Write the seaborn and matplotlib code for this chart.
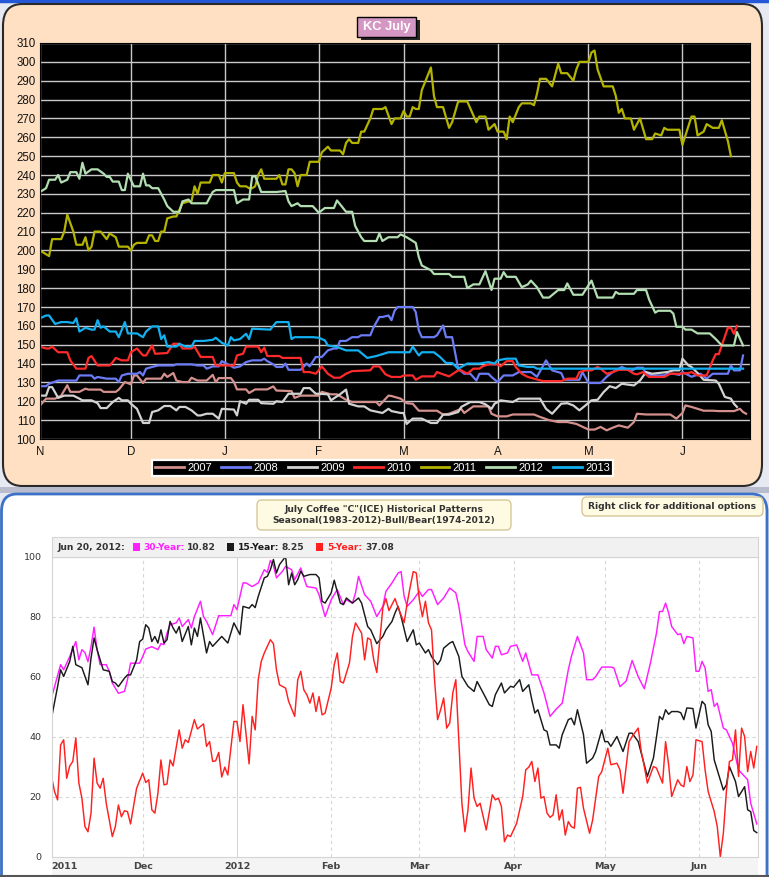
import numpy as np
import pandas as pd
import matplotlib
matplotlib.use("Agg")
import matplotlib.pyplot as plt
from matplotlib.patches import FancyBboxPatch, Rectangle
from matplotlib.lines import Line2D
import seaborn as sns

plt.rcParams['font.family'] = ['DejaVu Sans']

# ---------------- top chart: KC July, price by season day (0 = Nov 1) ----------------
years = ['2007', '2008', '2009', '2010', '2011', '2012', '2013']
year_colors = ['#D4908C', '#6A7BF5', '#D2D2D2', '#FF2A2A', '#B4B400', '#B2DEB2', '#12B0F0']

kc_2007 = [(0, 117.8), (2, 121.4), (5, 121.4), (7, 123), (9, 128.5), (10, 125), (13, 125), (15, 126.7), (16, 126.2),
           (20, 126.2), (21, 125), (25, 125), (26, 126.2), (28, 130.2), (30, 129), (31, 133.7), (32, 133.7), (34, 129.7),
           (35, 132), (40, 132), (41, 134.6), (42, 132.9), (44, 135), (45, 131), (47, 130.2), (49, 130.2), (50, 132.5),
           (52, 131), (55, 131), (57, 134), (58, 130.2), (59, 132.3), (63, 132.3), (64, 130.2), (65, 126.3), (68, 126.3),
           (69, 124.4), (71, 126.3), (75, 126.3), (77, 127.9), (78, 125.7), (83, 125.4), (84, 121.8), (86, 123), (92, 123),
           (93, 125), (96, 123.7), (98, 123.7), (101, 120.8), (103, 119.6), (111, 119.6), (112, 117.8), (115, 123),
           (116, 122.8), (119, 121.4), (121, 119), (123, 118.7), (125, 115), (131, 115), (133, 113), (135, 113.4),
           (139, 116), (140, 113.8), (143, 117.3), (148, 117.3), (149, 113.4), (151, 112), (154, 112), (156, 113),
           (163, 113), (165, 111.7), (168, 110), (171, 109), (174, 109), (177, 108), (181, 105), (183, 105), (185, 106.4),
           (187, 104.6), (189, 106), (191, 107.2), (194, 106), (196, 109), (197, 113.4), (200, 113), (208, 113),
           (210, 110.8), (212, 113.8), (213, 117.8), (215, 117), (217, 116), (219, 115), (222, 115), (224, 114.8),
           (229, 114.8), (231, 116), (232, 114.3), (233, 113.4)]

kc_2008 = [(0, 128), (2, 128), (3, 129.3), (6, 131), (12, 131), (13, 133.7), (17, 133.7), (18, 132), (19, 132.9),
           (22, 132), (25, 132), (26, 130.2), (27, 133.7), (29, 134.6), (32, 134.6), (33, 135.5), (34, 133.7), (35, 137.3),
           (37, 138.2), (39, 139), (44, 139), (45, 139.6), (50, 139.6), (52, 139), (54, 139), (55, 137.3), (57, 138.5),
           (59, 138.5), (60, 141.3), (62, 139.6), (64, 137.8), (66, 138.5), (68, 140.8), (70, 141.7), (73, 141.7),
           (74, 142.6), (75, 141.3), (77, 139.6), (78, 138.2), (80, 138.2), (81, 140), (82, 136.7), (86, 136.7), (88, 140),
           (89, 138.5), (91, 143.5), (93, 143.5), (95, 147), (97, 148), (98, 148), (99, 152), (101, 152), (103, 154),
           (105, 154), (106, 155), (109, 155), (110, 159), (112, 164.7), (113, 164.7), (115, 165.5), (116, 163),
           (117, 168), (118, 170), (123, 170), (124, 167.3), (125, 157.6), (126, 154), (130, 154), (131, 155),
           (133, 160.2), (134, 154), (136, 154), (138, 137.3), (140, 134.6), (142, 134.6), (144, 131), (145, 134.6),
           (148, 134.6), (149, 132.9), (151, 130.2), (153, 133.7), (156, 133.7), (158, 135.5), (162, 135.5), (164, 133),
           (167, 141.7), (169, 136.4), (172, 135), (173, 131.4), (178, 131.4), (179, 135.5), (181, 129.7), (185, 129.7),
           (187, 133), (189, 135.5), (192, 138.2), (195, 136), (197, 137.8), (199, 137.8), (200, 134.6), (202, 133.7),
           (206, 133.7), (207, 134.6), (209, 134.6), (211, 134), (212, 135.5), (215, 133), (218, 134.6), (220, 132),
           (222, 134.6), (227, 134.6), (228, 139), (229, 136.4), (231, 136.4), (232, 144.3)]

kc_2009 = [(0, 123), (2, 123), (3, 127.5), (4, 127.5), (6, 121.8), (8, 123), (11, 123), (13, 121.4), (14, 120.5),
           (17, 120.5), (19, 119), (20, 116.4), (22, 116.4), (24, 119.6), (26, 121.8), (27, 120.5), (29, 120.5),
           (30, 118.7), (32, 116), (34, 108.5), (36, 108.5), (37, 114.3), (39, 115.2), (41, 117.5), (43, 117.5),
           (45, 115.2), (46, 117), (48, 117), (50, 115.2), (52, 112.5), (53, 112.5), (55, 113.4), (57, 113.4), (59, 110.8),
           (60, 116), (64, 115.6), (65, 112.5), (66, 120), (68, 118.7), (69, 120.8), (72, 120.8), (73, 119), (77, 118.7),
           (78, 120), (80, 119.6), (82, 124), (86, 124), (87, 127), (89, 127), (91, 124), (92, 124), (95, 123.7),
           (96, 120.5), (99, 123.7), (101, 126.2), (102, 118.7), (105, 117.3), (107, 117.3), (109, 115.2), (113, 113.8),
           (115, 116), (116, 114.8), (119, 113.8), (120, 113.8), (121, 108), (123, 110.8), (126, 110.8), (129, 108.5),
           (131, 108.5), (133, 112.9), (135, 112.9), (138, 114.3), (139, 117), (142, 119.6), (145, 119.6), (147, 118.4),
           (149, 116), (150, 118.7), (152, 120.5), (156, 119.6), (158, 121.4), (165, 121.4), (167, 116), (169, 113.4),
           (172, 118.7), (174, 119), (176, 117.8), (178, 115.2), (180, 117.8), (182, 120.5), (184, 120.8), (186, 124.9),
           (188, 128), (190, 127), (192, 129.3), (196, 128.4), (198, 131), (200, 135.5), (202, 134.6), (207, 135.5),
           (209, 136.4), (211, 136.4), (212, 142.6), (214, 139), (215, 138.2), (217, 135), (219, 131.4), (223, 131),
           (224, 129.3), (226, 122.3), (228, 121.4), (229, 118.7), (230, 117)]

kc_2010 = [(0, 149), (2, 148), (3, 148), (4, 149), (6, 146), (9, 146), (10, 141.7), (12, 137.3), (15, 137.3), (16, 143),
           (17, 144), (19, 139), (23, 139), (24, 140.8), (25, 143), (27, 141.7), (29, 141.7), (30, 146), (32, 148),
           (34, 144.3), (35, 144.3), (37, 149.6), (38, 145.2), (42, 145.6), (44, 150.5), (46, 150.5), (47, 148), (50, 148),
           (51, 149), (53, 143.5), (57, 143.5), (58, 139), (64, 139), (65, 144.3), (67, 145.2), (68, 149), (72, 149),
           (73, 146), (74, 148.4), (75, 144), (79, 144), (80, 143), (86, 143), (87, 135.5), (89, 135.5), (91, 134.6),
           (93, 138.5), (95, 134.6), (97, 132.5), (99, 132.5), (101, 134.6), (103, 136), (109, 136.4), (110, 138.5),
           (112, 138.5), (114, 134.3), (116, 132.9), (119, 132.9), (120, 133.7), (123, 133.7), (124, 131.4), (126, 133.2),
           (130, 133.2), (131, 135.5), (133, 134.3), (135, 133.2), (138, 136.4), (139, 136.4), (141, 134.6), (143, 137.3),
           (145, 137.3), (146, 138.5), (148, 139.6), (151, 139.6), (152, 138.5), (154, 141.3), (156, 141.3), (157, 138.2),
           (159, 134.6), (161, 132.9), (166, 130.7), (172, 130.7), (174, 132), (177, 132), (178, 135.5), (180, 136.4),
           (182, 136.4), (184, 138.2), (185, 137.3), (187, 134.6), (189, 135.5), (191, 136.7), (194, 136.7), (196, 134.6),
           (197, 134.3), (199, 135.5), (201, 132.9), (206, 132.9), (208, 134.6), (211, 134.6), (214, 135), (215, 135.5),
           (217, 133.7), (220, 133.7), (222, 141.7), (223, 145), (224, 145), (227, 159), (228, 159), (229, 155.8),
           (230, 160)]

kc_2011 = [(0, 200), (3, 197), (4, 206), (7, 206), (8, 210), (9, 219), (11, 210), (12, 203), (14, 203), (15, 207),
           (16, 200), (17, 202), (18, 210), (20, 210), (22, 206), (23, 209), (25, 207), (26, 202), (29, 202), (30, 200),
           (31, 203), (32, 204), (35, 204), (36, 208), (37, 208), (38, 205), (39, 205), (40, 210), (41, 210), (42, 217),
           (44, 218), (45, 218), (47, 225), (49, 226), (50, 226), (51, 234), (52, 230), (53, 236), (56, 236), (57, 240),
           (59, 240), (60, 236), (61, 241), (64, 241), (65, 236), (66, 234), (68, 234), (69, 233), (70, 233), (71, 234),
           (72, 240), (73, 243), (74, 238), (78, 238), (79, 240), (80, 235), (81, 235), (82, 243), (83, 243), (84, 241),
           (85, 234), (86, 240), (88, 240), (89, 247), (92, 247), (93, 252), (95, 255), (96, 253), (99, 253), (100, 251),
           (101, 257), (102, 259), (103, 257), (105, 257), (106, 263), (107, 263), (109, 270), (110, 275), (113, 275),
           (114, 276), (116, 267), (117, 270), (119, 270), (120, 274), (121, 271), (122, 271), (123, 276), (124, 275),
           (125, 275), (126, 285), (129, 297), (130, 282), (131, 276), (133, 276), (135, 265), (136, 268), (138, 279),
           (141, 279), (144, 268), (145, 271), (147, 271), (148, 264), (150, 267), (151, 263), (153, 263), (154, 259),
           (155, 271), (156, 268), (158, 276), (159, 278), (162, 278), (163, 277), (164, 283), (165, 291), (167, 291),
           (169, 287), (171, 299), (172, 294), (174, 294), (176, 290), (177, 296), (178, 300), (181, 300), (182, 305),
           (183, 306), (184, 296), (186, 287), (189, 287), (190, 282), (191, 273), (192, 275), (193, 270), (195, 270),
           (196, 264), (198, 270), (200, 259), (202, 259), (203, 262), (205, 261), (206, 265), (207, 264), (211, 264),
           (212, 256), (215, 271), (216, 271), (217, 261), (219, 263), (220, 267), (222, 265), (224, 265), (225, 269),
           (227, 258), (228, 250)]

kc_2012 = [(0, 231), (2, 233), (3, 237.5), (5, 237.5), (6, 240), (7, 236), (9, 237.5), (10, 241.5), (12, 241.5),
           (13, 238), (14, 246.5), (15, 240.7), (17, 243), (19, 243), (21, 240.7), (22, 239), (23, 239), (24, 236.5),
           (26, 236.5), (27, 232), (28, 232), (29, 240.7), (31, 234), (33, 234), (34, 240.7), (35, 234.5), (36, 234.5),
           (37, 233), (39, 233), (41, 227), (42, 223.5), (44, 220.5), (46, 220.5), (47, 226), (49, 227), (50, 225),
           (55, 225), (57, 231), (58, 232), (64, 232), (65, 225), (67, 227), (69, 227), (70, 239), (71, 239.5), (73, 231),
           (78, 231), (81, 231.5), (82, 226), (83, 223.5), (85, 225), (86, 223.5), (90, 223.5), (92, 220), (94, 222.5),
           (97, 222.5), (98, 226.5), (101, 220.5), (103, 220.5), (104, 213), (106, 207), (107, 205), (111, 205),
           (112, 209), (113, 205), (115, 207), (118, 207), (119, 208.5), (121, 207), (123, 205), (124, 204), (125, 196.5),
           (126, 192), (129, 189.5), (130, 187.5), (135, 187.5), (136, 186), (140, 186), (141, 180), (143, 182),
           (145, 182), (147, 189), (149, 179), (150, 185), (152, 185), (153, 188.5), (154, 186), (157, 186), (159, 180.5),
           (161, 182), (162, 184), (164, 180.5), (166, 175), (168, 175), (171, 179), (173, 179), (174, 182.5),
           (176, 176.5), (179, 176.5), (182, 184), (184, 175), (189, 175), (190, 178), (191, 177), (196, 177), (197, 179),
           (200, 179), (201, 174), (203, 167), (204, 168), (208, 168), (209, 166.5), (210, 159.5), (212, 159.5),
           (213, 158), (215, 158), (217, 156), (221, 156), (223, 153), (225, 149.6), (229, 149.6), (230, 156.7),
           (232, 149.6)]

kc_2013 = [(0, 164), (2, 165.5), (3, 165.5), (5, 161), (7, 162), (9, 162), (11, 161.5), (12, 164), (13, 157), (15, 159),
           (17, 158), (18, 158), (19, 163), (20, 159), (21, 159.7), (23, 157), (25, 157), (26, 154), (28, 162), (29, 156),
           (32, 156), (34, 154), (35, 157), (37, 159.7), (39, 159.7), (40, 153), (41, 155), (42, 149), (45, 149),
           (46, 150.5), (48, 149), (50, 149), (51, 152), (54, 152), (57, 152.6), (58, 153.7), (60, 151), (62, 149.6),
           (63, 154), (64, 152.3), (66, 153), (68, 155.8), (69, 153), (70, 158.5), (76, 158), (78, 162), (82, 162),
           (83, 153), (84, 154), (90, 154), (92, 153.7), (94, 152.3), (95, 149.6), (98, 148.8), (101, 147), (105, 147),
           (108, 143), (111, 144), (115, 146), (122, 146), (123, 149), (125, 144.3), (126, 146), (130, 146), (132, 143.5),
           (134, 140.3), (136, 140.3), (138, 137.3), (141, 140), (145, 140), (148, 140.8), (150, 140), (151, 141.7),
           (154, 142.6), (157, 142.6), (158, 139), (161, 138.2), (163, 138.2), (164, 137.3), (232, 137.3)]

kc_series = [kc_2007, kc_2008, kc_2009, kc_2010, kc_2011, kc_2012, kc_2013]
season_ticks = [0, 30, 61, 92, 120, 151, 181, 212]
season_labels = ['N', 'D', 'J', 'F', 'M', 'A', 'M', 'J']
price_ticks = list(range(100, 311, 10))

# ---------------- bottom chart: seasonal patterns (0 = Nov 1, 2011) ----------------
pat_30 = [(0, 53), (3, 64), (4, 62.3), (6, 66.7), (8, 71.7), (9, 65.6), (10, 69), (11, 68), (12, 65), (13, 70), (14, 76.5),
          (15, 69), (16, 64), (18, 64), (19, 61.8), (20, 57.9), (22, 54.5), (24, 55.1), (25, 59), (26, 64.5), (29, 64.5),
          (30, 66.7), (31, 69.2), (33, 70), (35, 69), (36, 71), (37, 70.7), (38, 74.5), (39, 77.3), (41, 77.9),
          (42, 79.5), (43, 76.7), (45, 79), (46, 76.2), (47, 80), (49, 85.1), (50, 80), (51, 78.4), (53, 74), (55, 80.3),
          (59, 80.3), (60, 84), (61, 82.3), (63, 91.2), (64, 91.2), (66, 90), (68, 91.2), (70, 95.6), (71, 94.7),
          (72, 98.7), (73, 97), (74, 92.9), (76, 95.1), (77, 96.7), (79, 95.6), (80, 92.3), (82, 96.2), (83, 92.9),
          (84, 90), (87, 89.5), (88, 87.3), (90, 80), (92, 85.6), (94, 89), (96, 84), (97, 85.6), (99, 84.5), (100, 87.9),
          (101, 93.4), (103, 87.3), (105, 85.1), (107, 80), (109, 83.4), (110, 88.4), (112, 91.2), (114, 94.5), (115, 95),
          (116, 86.7), (117, 83.4), (119, 85.6), (121, 88.4), (122, 86.7), (124, 89), (125, 89), (127, 84), (129, 86.2),
          (131, 89.5), (133, 87.9), (134, 83.4), (136, 70.6), (137, 68.3), (139, 65.1), (140, 73.4), (142, 73.4),
          (143, 69), (145, 66.2), (146, 70.1), (147, 70.1), (148, 67.3), (150, 67.9), (151, 70.1), (153, 70.6),
          (155, 65.1), (156, 67.9), (158, 60.6), (160, 60.6), (162, 54.6), (164, 46.8), (166, 49.2), (168, 51.2),
          (170, 62.3), (171, 66.7), (173, 73.4), (175, 67.9), (176, 59), (178, 59), (179, 60), (181, 63.2), (184, 63.2),
          (185, 62.9), (187, 56.7), (189, 58.5), (191, 65.4), (193, 60), (195, 56), (197, 64.5), (199, 74.5),
          (200, 81.7), (201, 81.7), (202, 84.5), (203, 81.2), (204, 76.7), (206, 74), (207, 74.3), (208, 71),
          (209, 73.4), (211, 72.9), (212, 61.8), (213, 61.8), (214, 65.1), (215, 62.9), (216, 55.1), (217, 55.7),
          (218, 50.1), (219, 51.2), (221, 42.9), (222, 42.3), (224, 37.9), (226, 29), (229, 25.7), (230, 17.9), (232, 11)]

pat_15 = [(0, 46.2), (2, 56.7), (3, 62.3), (4, 60.1), (6, 65.1), (7, 70.1), (8, 64), (10, 63), (12, 57.3), (13, 66.2),
          (14, 72.9), (15, 69), (16, 65.6), (17, 62.3), (19, 61.8), (20, 58.4), (21, 57.9), (22, 56.7), (24, 59.5),
          (25, 60.6), (26, 60.6), (28, 65.6), (29, 71.7), (30, 72.5), (31, 77.3), (32, 76.2), (33, 71.7), (34, 73.4),
          (35, 71.2), (36, 75.6), (37, 71.2), (38, 72.3), (39, 78.4), (40, 76.2), (41, 74.5), (42, 76.7), (43, 71.7),
          (45, 76.7), (46, 70.6), (47, 76.2), (48, 73.4), (49, 79.5), (51, 67.9), (52, 71.7), (53, 70.1), (55, 72.3),
          (56, 73.4), (58, 71.2), (60, 77.9), (62, 74), (63, 83.4), (65, 82.8), (66, 84), (67, 83), (68, 86.7), (70, 92.9),
          (71, 93.4), (72, 95.6), (73, 99), (74, 94.5), (75, 97.3), (77, 100), (78, 90.6), (79, 94.5), (80, 90.6),
          (81, 92.3), (82, 95.1), (83, 93.4), (85, 94), (87, 94), (88, 92.9), (89, 85.1), (90, 84.5), (92, 87.9),
          (93, 92.1), (95, 84.5), (96, 84), (97, 86.2), (99, 84.5), (101, 86.2), (102, 84.5), (104, 76.7), (105, 75.6),
          (107, 71), (109, 73.4), (110, 75.6), (112, 78.4), (113, 81.2), (114, 83.4), (115, 80), (117, 71.7), (119, 75.6),
          (120, 70.6), (121, 71.2), (123, 67.9), (124, 69), (125, 66.7), (127, 64), (128, 65.6), (129, 69.5), (131, 71.2),
          (132, 71.7), (134, 66.7), (135, 60.1), (137, 56.8), (139, 55.1), (140, 58.4), (142, 54.6), (144, 50.7),
          (145, 50.1), (146, 54), (148, 57.9), (149, 54.6), (151, 56.8), (152, 56.5), (154, 59), (155, 55.1), (157, 57.3),
          (158, 52.3), (159, 47.9), (160, 49), (162, 42.3), (163, 41.8), (164, 37.3), (166, 37.3), (167, 36.2),
          (168, 40.7), (170, 45.7), (171, 46.2), (172, 44), (173, 49), (175, 40.7), (176, 31.2), (178, 32.9), (179, 35.1),
          (181, 42.3), (182, 38.4), (183, 38.4), (184, 36.8), (186, 40.1), (188, 35.1), (190, 41.2), (191, 41.2),
          (193, 38.4), (195, 30.7), (196, 26.8), (198, 32.9), (200, 46.8), (201, 45.7), (202, 49), (203, 47.5),
          (204, 48.4), (206, 48.4), (207, 48), (208, 45.7), (209, 49.6), (211, 49.4), (212, 42.9), (214, 51.8),
          (215, 50.7), (216, 44), (217, 41.8), (218, 32.3), (219, 29), (221, 22.3), (222, 24), (223, 30.1), (225, 25.1),
          (226, 20.1), (228, 23.4), (229, 15.7), (230, 15.1), (231, 8.8), (232, 8.1)]

pat_5 = [(0, 26.8), (1, 21.8), (2, 19), (3, 37.3), (4, 39), (5, 26.2), (6, 30.3), (7, 31.8), (8, 39.6), (9, 24.6),
         (10, 19.6), (11, 10.1), (12, 8.4), (13, 14.6), (14, 32.9), (15, 24.6), (16, 22.9), (17, 26.2), (18, 17.9),
         (20, 6.8), (21, 10.1), (22, 17.3), (23, 13.4), (24, 15.4), (25, 15.1), (26, 11), (28, 22.9), (30, 27.9),
         (31, 24.8), (32, 25.7), (33, 15.7), (34, 14.6), (35, 21.2), (36, 32.3), (37, 24), (38, 24.3), (39, 32.3),
         (40, 30.3), (42, 42.3), (43, 36.2), (44, 39), (45, 38.1), (47, 45.7), (48, 42.6), (50, 44.3), (51, 36.8),
         (52, 38.4), (53, 31.8), (54, 32), (55, 34.8), (56, 26.6), (57, 29.9), (58, 27.3), (60, 45.1), (61, 45.1),
         (62, 38.4), (63, 50.7), (65, 31), (66, 46.8), (67, 42.3), (68, 59), (69, 65.1), (70, 67.9), (72, 72.3), (73, 71),
         (74, 62.3), (75, 57.3), (77, 56.2), (78, 51.8), (80, 46.8), (81, 59), (82, 61.8), (83, 55.6), (84, 54),
         (85, 51.2), (86, 54.6), (87, 48.4), (88, 53.4), (89, 47.3), (90, 47.9), (92, 56.2), (93, 64), (94, 67.9),
         (95, 58.4), (96, 57.9), (98, 64.5), (99, 73.4), (100, 77.9), (102, 74.5), (103, 65.6), (104, 72.9), (105, 72.3),
         (106, 65.6), (107, 61.4), (108, 72.3), (109, 83), (110, 86), (111, 82), (112, 84), (113, 86), (114, 83),
         (116, 78), (117, 84.5), (118, 90), (119, 95), (120, 94.5), (121, 85.6), (122, 80), (123, 85.1), (124, 77.9),
         (125, 75.6), (126, 59), (127, 45.7), (128, 49), (129, 52.9), (130, 42.9), (131, 44.6), (132, 54.6), (133, 59),
         (134, 38.4), (135, 17.9), (136, 8.4), (137, 15.7), (138, 29.6), (139, 19.6), (140, 16.8), (141, 17.9),
         (142, 13.4), (143, 9), (145, 20.7), (146, 19), (147, 19.6), (148, 16.8), (149, 5.1), (150, 7.3), (151, 6.8),
         (153, 11.2), (155, 20.1), (156, 29), (157, 29.9), (158, 31.8), (159, 25.1), (160, 29.6), (161, 19.6),
         (162, 20.1), (163, 14.6), (164, 13.2), (165, 14), (166, 20.7), (167, 12.3), (168, 15.7), (169, 7.3), (170, 11.8),
         (171, 10.1), (172, 9.6), (173, 22.9), (174, 23.2), (175, 16.2), (177, 7.9), (178, 12.3), (180, 26.8),
         (181, 28.4), (183, 36.2), (184, 30.7), (186, 31.2), (187, 29), (188, 21.2), (190, 38.4), (191, 40.1),
         (193, 42.9), (194, 35.1), (195, 30.1), (196, 24.6), (198, 30.1), (199, 29.6), (201, 24.6), (202, 38.4),
         (203, 30.7), (204, 20.1), (206, 25.7), (207, 24), (208, 23.4), (209, 30.1), (210, 25.1), (211, 27.3), (212, 39),
         (214, 38.4), (215, 29), (216, 21.8), (218, 15.1), (219, 10.1), (220, 0.1), (221, 7.9), (222, 21.8), (223, 31.8),
         (224, 32.3), (225, 42.3), (226, 26.8), (227, 42.9), (228, 40.1), (229, 28.4), (230, 35.1), (231, 29.6),
         (232, 36.8)]

pattern_names = ['30-Year', '15-Year', '5-Year']
pattern_colors = ['#FF1EFF', '#1A1A1A', '#FF2020']
pattern_last = ['10.82', '8.25', '37.08']
month_ticks = [0, 30, 61, 92, 121, 152, 182, 213]
month_labels = ['2011', 'Dec', '2012', 'Feb', 'Mar', 'Apr', 'May', 'Jun']
pct_ticks = [0, 20, 40, 60, 80, 100]

W, H = 769, 877


def fx(px):
    return px / W


def fy(py):
    return 1 - py / H


def to_frame(series, names, key):
    rows = []
    for name, pts in zip(names, series):
        for d, v in pts:
            rows.append({'day': d, 'value': v, key: name})
    return pd.DataFrame(rows)


fig = plt.figure(figsize=(W / 100, H / 100), dpi=100)
fig.patch.set_facecolor('#E6E8F2')

# window frames (kept behind the axes)
fig.add_artist(Line2D([0, 1], [fy(1), fy(1)], transform=fig.transFigure, color='#2458D8', lw=2.5, zorder=-5))
fig.add_artist(FancyBboxPatch((fx(3), fy(486)), fx(762) - fx(3), fy(4) - fy(486),
                              boxstyle='round,pad=0,rounding_size=0.025', transform=fig.transFigure,
                              fc='#FFE0C2', ec='#2A2A2A', lw=1.5, zorder=-5))
fig.add_artist(Rectangle((0, fy(493)), 1, fy(487) - fy(493), transform=fig.transFigure,
                         fc='#B8BCCC', ec='none', zorder=-5))
fig.add_artist(FancyBboxPatch((fx(1.5), fy(905)), fx(767) - fx(1.5), fy(494) - fy(905),
                              boxstyle='round,pad=0,rounding_size=0.02', transform=fig.transFigure,
                              fc='white', ec='#3C72C6', lw=2, zorder=-5))
fig.add_artist(Rectangle((fx(51.5), fy(875)), fx(758) - fx(51.5), fy(857) - fy(875), transform=fig.transFigure,
                         fc='#F4F4F4', ec='none', zorder=-4))
fig.add_artist(Line2D([0, 1], [fy(876), fy(876)], transform=fig.transFigure, color='#555555', lw=1.5, zorder=-4))

# ---------- top chart ----------
ax1 = fig.add_axes([fx(40), fy(439), fx(750) - fx(40), fy(43) - fy(439)])
ax1.set_facecolor('black')
kc_df = to_frame(kc_series, years, 'year')
sns.lineplot(data=kc_df, x='day', y='value', hue='year', palette=dict(zip(years, year_colors)),
             estimator=None, linewidth=1.6, legend=False, ax=ax1)
ax1.set_xlim(0, 234.3)
ax1.set_ylim(100, 310)
ax1.set_yticks(price_ticks)
ax1.set_xticks(season_ticks)
ax1.set_xticklabels(season_labels)
ax1.grid(True, color='#C8C8C8', lw=1)
ax1.set_axisbelow(True)
ax1.set_xlabel('')
ax1.set_ylabel('')
for s in ax1.spines.values():
    s.set_color('black')
ax1.tick_params(axis='both', length=0, labelsize=8.3, colors='#111111')
ax1.tick_params(axis='y', pad=3)
ax1.tick_params(axis='x', pad=5)
for lab in ax1.get_xticklabels() + ax1.get_yticklabels():
    lab.set_family('Liberation Sans')

handles = [Line2D([0], [0], color=c, lw=2) for c in year_colors]
leg = ax1.legend(handles, years, ncol=7, loc='center', bbox_to_anchor=(fx(382.5), fy(468)),
                 bbox_transform=fig.transFigure, frameon=True, fancybox=False, facecolor='black',
                 edgecolor='white', labelcolor='white', prop={'family': 'Liberation Sans', 'size': 8},
                 handlelength=2.6, handletextpad=0.3, columnspacing=0.85, borderpad=0.3, framealpha=1)
leg.get_frame().set_linewidth(1.6)

# title tag
fig.add_artist(Rectangle((fx(361), fy(40)), fx(420) - fx(361), fy(20) - fy(40), transform=fig.transFigure,
                         fc='#262626', ec='none'))
fig.add_artist(Rectangle((fx(357), fy(37)), fx(416) - fx(357), fy(17) - fy(37), transform=fig.transFigure,
                         fc='#D496C2', ec='black', lw=1))
fig.text(fx(386.5), fy(27), 'KC July', ha='center', va='center', color='white', fontsize=9.3,
         fontweight='bold', family='Liberation Sans')

# ---------- bottom chart ----------
ax2 = fig.add_axes([fx(51.5), fy(857), fx(758) - fx(51.5), fy(556.5) - fy(857)])
ax2.set_facecolor('white')
pat_df = to_frame([pat_30, pat_15, pat_5], pattern_names, 'pattern')
sns.lineplot(data=pat_df, x='day', y='value', hue='pattern', palette=dict(zip(pattern_names, pattern_colors)),
             estimator=None, linewidth=1.05, legend=False, ax=ax2)
ax2.set_xlim(0, 232.4)
ax2.set_ylim(0, 100)
ax2.set_yticks(pct_ticks)
ax2.set_xticks(month_ticks)
ax2.set_xticklabels(month_labels)
ax2.set_xlabel('')
ax2.set_ylabel('')
ax2.grid(True, color='#D6D6D6', lw=0.8, ls=(0, (3, 3)))
ax2.get_xgridlines()[0].set_visible(False)
ax2.get_xgridlines()[2].set_linestyle('-')
ax2.get_ygridlines()[0].set_visible(False)
ax2.get_ygridlines()[-1].set_visible(False)
ax2.set_axisbelow(True)
for s in ax2.spines.values():
    s.set_color('#D4D4D4')
    s.set_linewidth(0.8)
ax2.tick_params(axis='both', length=0, labelsize=6.8, colors='#333333')
ax2.tick_params(axis='y', pad=7)
ax2.tick_params(axis='x', pad=3.5)
for lab in ax2.get_xticklabels():
    lab.set_fontweight('bold')
    lab.set_color('#444444')
ax2.get_xticklabels()[0].set_horizontalalignment('left')

# header strip with the latest values
fig.add_artist(Rectangle((fx(51.5), fy(556.5)), fx(758) - fx(51.5), fy(537) - fy(556.5),
                         transform=fig.transFigure, fc='#F1F1F1', ec='#D4D4D4', lw=0.8))
hy = fy(547)
hkw = dict(va='center', ha='left', fontsize=6.6, fontweight='bold')
fig.text(fx(57), hy, 'Jun 20, 2012:', color='#333333', **hkw)
sq_x = [133, 227, 316]
name_x = [143, 238, 327]
val_x = [187, 281, 365]
for i, name in enumerate(pattern_names):
    fig.add_artist(Rectangle((fx(sq_x[i]), fy(551)), fx(7), fy(543) - fy(551), transform=fig.transFigure,
                             fc=pattern_colors[i], ec='none'))
    fig.text(fx(name_x[i]), hy, name + ':', color=pattern_colors[i], **hkw)
    fig.text(fx(val_x[i]), hy, pattern_last[i], color='#333333', **hkw)

# title boxes
fig.add_artist(FancyBboxPatch((fx(257), fy(530)), fx(511) - fx(257), fy(500) - fy(530),
                              boxstyle='round,pad=0,rounding_size=0.006', transform=fig.transFigure,
                              fc='#FFFBE2', ec='#D6C69A', lw=1))
fig.text(fx(384), fy(515), 'July Coffee "C"(ICE) Historical Patterns\nSeasonal(1983-2012)-Bull/Bear(1974-2012)',
         ha='center', va='center', fontsize=6.6, fontweight='bold', color='#333333', linespacing=1.35)
fig.add_artist(FancyBboxPatch((fx(582), fy(516)), fx(763) - fx(582), fy(497) - fy(516),
                              boxstyle='round,pad=0,rounding_size=0.006', transform=fig.transFigure,
                              fc='#FFFBE2', ec='#D6C69A', lw=1))
fig.text(fx(672.5), fy(506.5), 'Right click for additional options', ha='center', va='center',
         fontsize=6.6, fontweight='bold', color='#333333')

fig.savefig('out.png', dpi=100, facecolor=fig.get_facecolor())
